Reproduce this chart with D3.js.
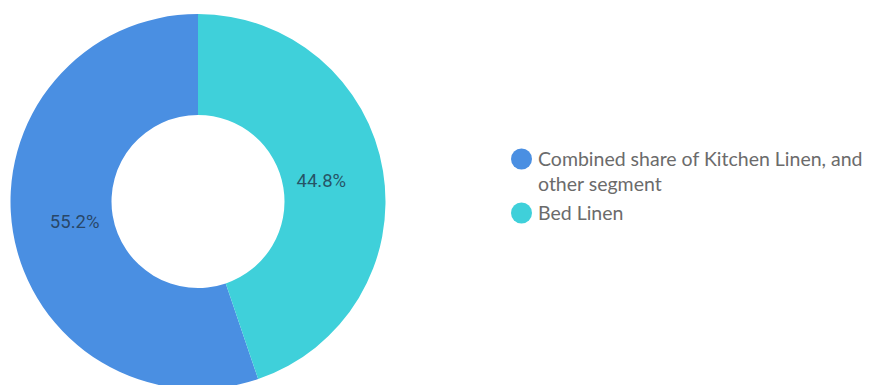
<!DOCTYPE html>
<html>
<head>
<meta charset="utf-8">
<script src="https://cdn.jsdelivr.net/npm/d3@7"></script>
<style>
  html, body { margin: 0; padding: 0; background: #ffffff; }
  svg { display: block; }
</style>
</head>
<body>
<svg id="chart" width="872" height="385"></svg>
<script>
const categories = ["Combined share of Kitchen Linen, and other segment", "Bed Linen"];
const legendLines = [["Combined share of Kitchen Linen, and", "other segment"], ["Bed Linen"]];
const values = [55.2, 44.8];
const colors = ["#4a8fe2", "#3fd0da"];

const svg = d3.select("#chart");
const cx = 198, cy = 201.5, outerR = 187.5, innerR = 86.5, labelR = 125;

const data = categories.map((c, i) => ({ name: c, value: values[i], color: colors[i] }));

const pie = d3.pie().value(d => d.value).sortValues((a, b) => a - b);
const arcs = pie(data);
const arc = d3.arc().innerRadius(innerR).outerRadius(outerR);
const labelArc = d3.arc().innerRadius(labelR).outerRadius(labelR);

const g = svg.append("g").attr("transform", `translate(${cx},${cy})`);
g.selectAll("path").data(arcs).join("path")
  .attr("d", arc)
  .attr("fill", d => d.data.color);

g.selectAll("text").data(arcs).join("text")
  .attr("transform", d => `translate(${labelArc.centroid(d)})`)
  .attr("text-anchor", "middle")
  .attr("dominant-baseline", "central")
  .attr("font-family", "Roboto, 'Noto Sans', sans-serif")
  .attr("font-size", 18.5)
  .attr("fill", "#1f3347")
  .attr("fill-opacity", 0.8)
  .text(d => d.data.value.toFixed(1) + "%");

// legend
const legend = svg.append("g").attr("transform", "translate(511,0)");
const itemY = [159, 213];
const lineH = 25;
data.forEach((d, i) => {
  const it = legend.append("g").attr("transform", `translate(0,${itemY[i]})`);
  it.append("circle").attr("cx", 10.5).attr("cy", 0).attr("r", 10.5).attr("fill", d.color);
  const t = it.append("text")
    .attr("x", 27)
    .attr("y", 0)
    .attr("font-family", "Lato, 'Noto Sans', sans-serif")
    .attr("font-size", 19.5)
    .attr("fill", "#6b6b6b");
  legendLines[i].forEach((ln, j) => {
    t.append("tspan").attr("x", 27).attr("dy", j === 0 ? "0.35em" : lineH).text(ln);
  });
});
</script>
</body>
</html>
